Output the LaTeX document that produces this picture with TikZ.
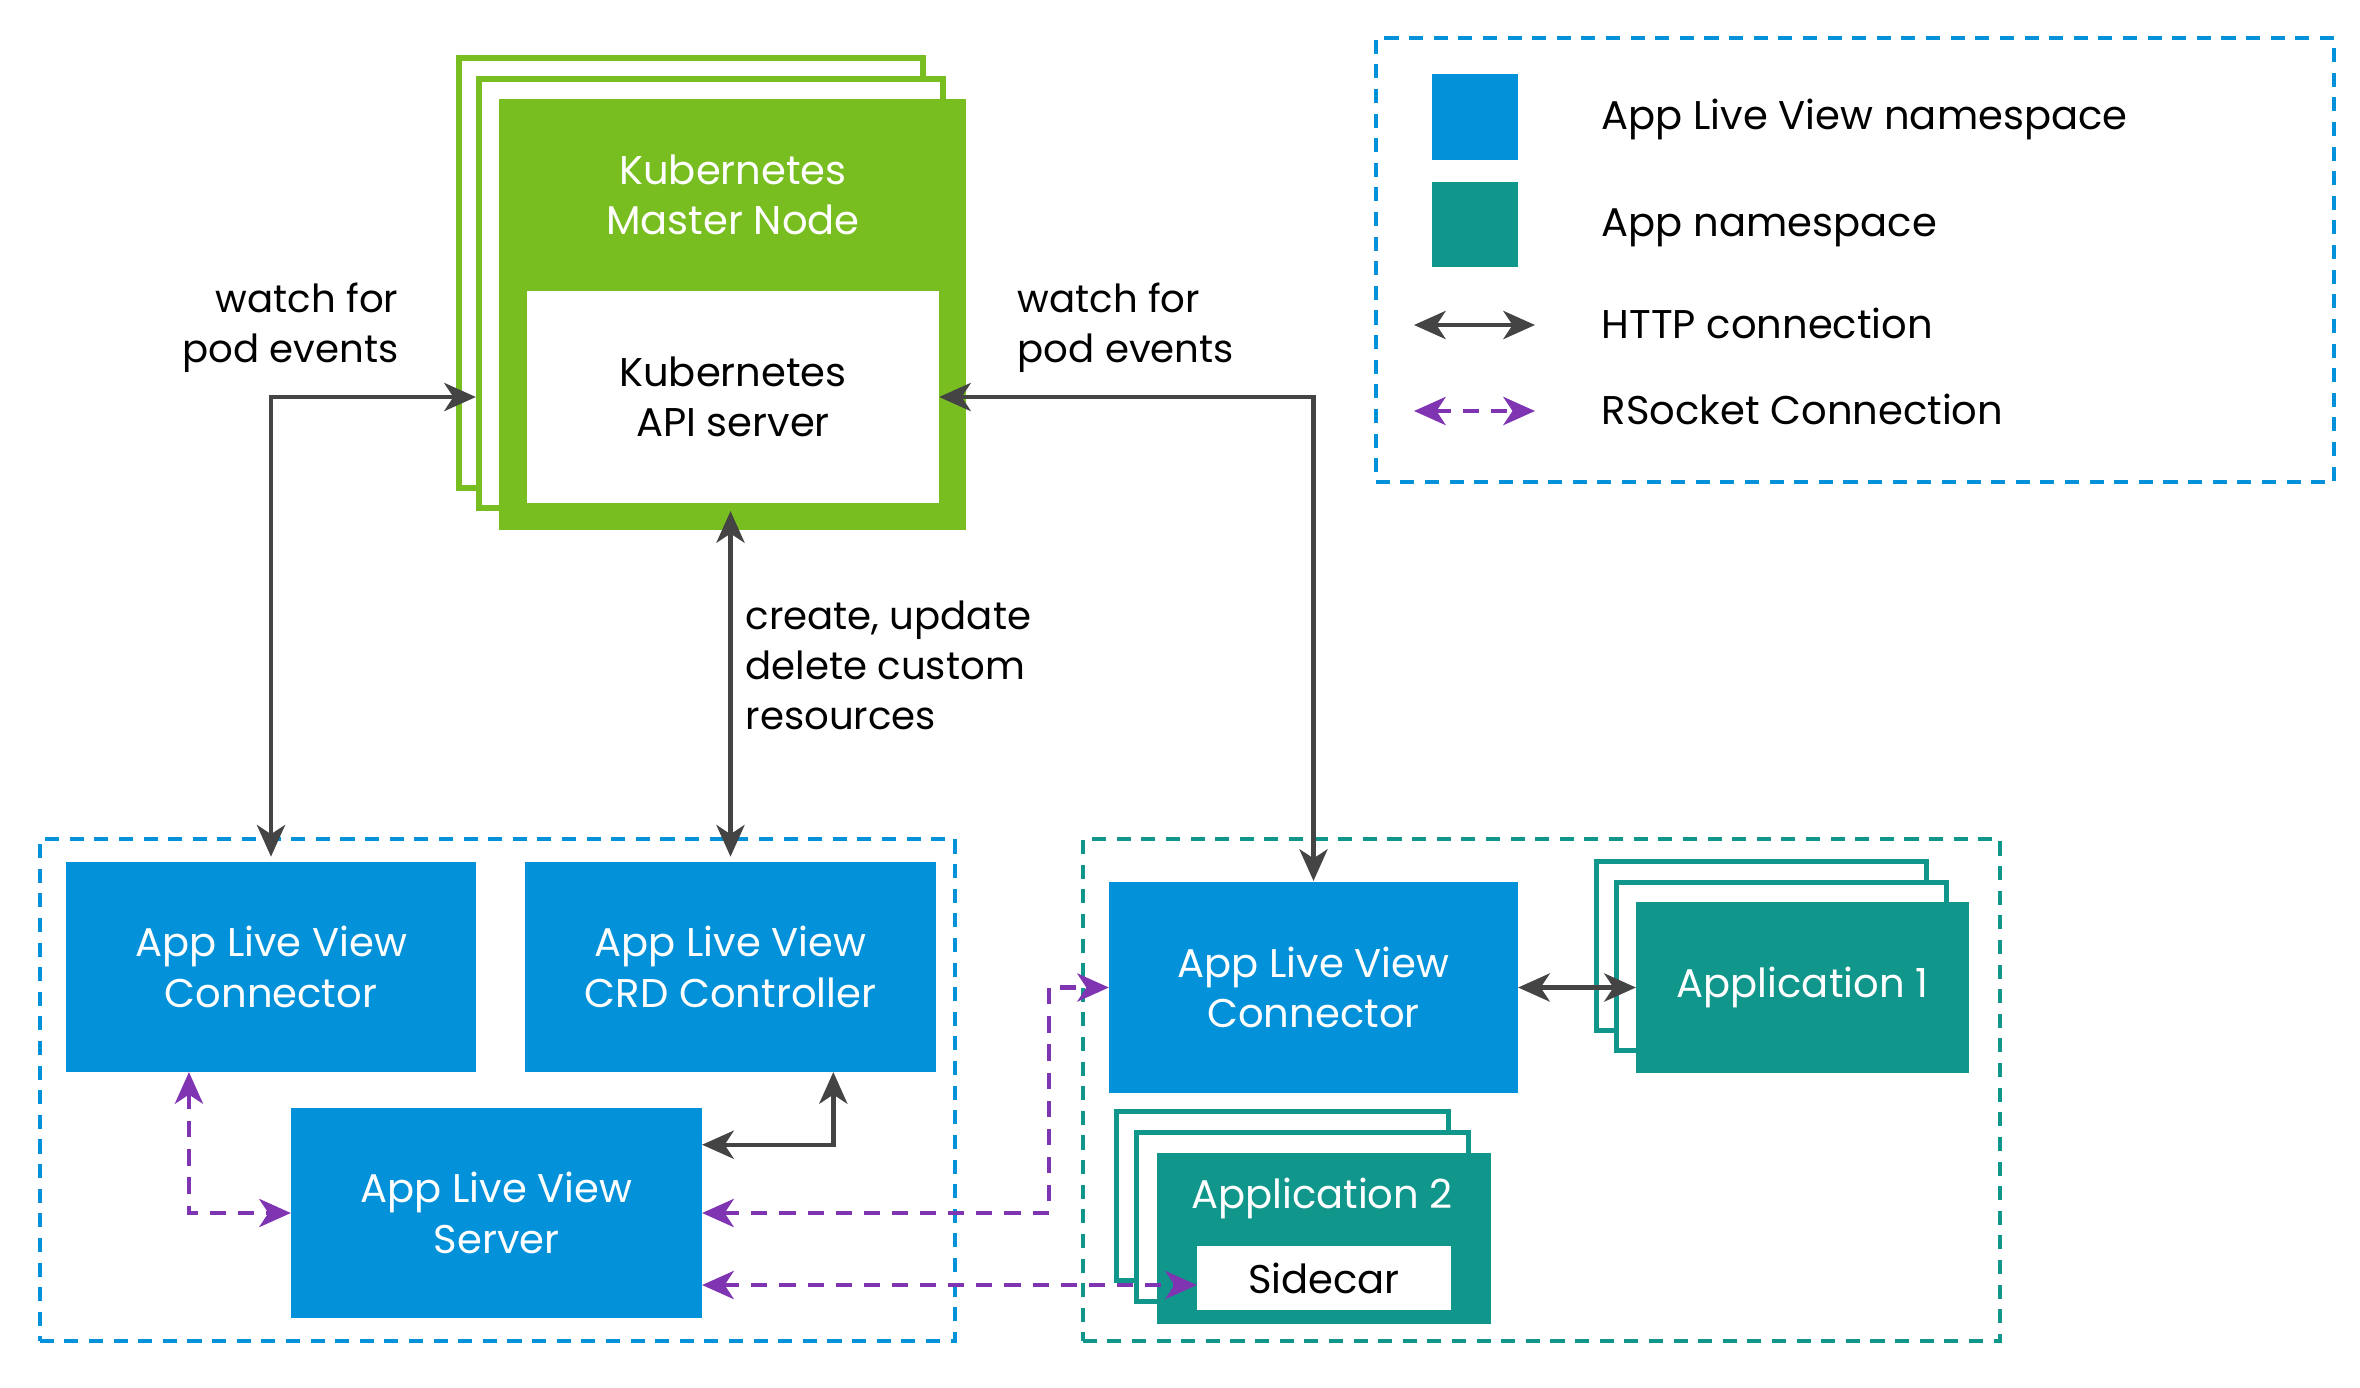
\documentclass[tikz,border=0pt]{standalone}
\usepackage{fontspec}
\setmainfont{Poppins}
\usetikzlibrary{arrows.meta,calc}
\definecolor{alvblue}{HTML}{0391DA}
\definecolor{appteal}{HTML}{10968B}
\definecolor{kgreen}{HTML}{78BE20}
\definecolor{agray}{HTML}{444444}
\definecolor{rspurple}{HTML}{7F35B2}
\tikzset{
  box/.style={rectangle, inner sep=0pt, outer sep=0pt, align=center, font=\fontsize{11.4}{14.4}\selectfont},
  bluebox/.style={box, fill=alvblue, text=white},
  tealbox/.style={box, fill=appteal, text=white},
  greenbox/.style={box, fill=kgreen, text=white},
  whitebox/.style={box, fill=white, text=black},
  gframe/.style={rectangle, inner sep=0pt, draw=kgreen, fill=white, line width=1.7pt},
  tframe/.style={rectangle, inner sep=0pt, draw=appteal, fill=white, line width=1.4pt},
  nsbox/.style={rectangle, inner sep=0pt, dash pattern=on 4pt off 3pt, line width=1.2pt},
  lbl/.style={inner sep=0pt, font=\fontsize{11}{14.2}\selectfont, text=black},
  legtxt/.style={inner sep=0pt, anchor=west, font=\fontsize{11.4}{14}\selectfont, text=black},
  tip/.style={arrows={Stealth[length=9pt,width=8pt,inset=2.6pt]-Stealth[length=9pt,width=8pt,inset=2.6pt]}},
  http/.style={draw=agray, line width=1.25pt, tip},
  rsock/.style={draw=rspurple, line width=1.25pt, dash pattern=on 4.6pt off 3.4pt, tip},
}
\begin{document}
\begin{tikzpicture}[x=0.01cm,y=-0.01cm]
\useasboundingbox (0,0) rectangle (2360,1387);

% Kubernetes master node stack
\node[gframe, minimum width=4.64cm, minimum height=4.30cm] (mframe1) at (691,273) {};
\node[gframe, minimum width=4.64cm, minimum height=4.29cm] (mframe2) at (711,293.5) {};
\node[greenbox, minimum width=4.67cm, minimum height=4.31cm] (master) at (732.5,314.5) {};
\node[box, text=white] (mastertxt) at (733,195) {Kubernetes\\Master Node};
\node[whitebox, minimum width=4.12cm, minimum height=2.12cm] (api) at (733,397) {Kubernetes\\API server};

% legend
\node[nsbox, draw=alvblue, minimum width=9.58cm, minimum height=4.44cm] (legend) at (1855,260) {};
\node[rectangle, fill=alvblue, minimum width=0.86cm, minimum height=0.86cm, inner sep=0pt] (legblue) at (1475,117) {};
\node[rectangle, fill=appteal, minimum width=0.86cm, minimum height=0.85cm, inner sep=0pt] (legteal) at (1475,224.5) {};
\node[legtxt] (legt1) at (1601,119) {App Live View namespace};
\node[legtxt] (legt2) at (1601,228) {App namespace};
\node[legtxt] (legt3) at (1601,323) {HTTP connection};
\node[legtxt] (legt4) at (1601,409) {RSocket Connection};
\coordinate (lh1) at (1414,325);
\coordinate (lh2) at (1535,325);
\coordinate (lr1) at (1414,411);
\coordinate (lr2) at (1535,411);
\draw[http] (lh1) -- (lh2);
\draw[rsock] (lr1) -- (lr2);

% App Live View namespace (left)
\node[nsbox, draw=alvblue, minimum width=9.15cm, minimum height=5.02cm] (lbox) at (497.5,1090) {};
\node[bluebox, minimum width=4.10cm, minimum height=2.10cm] (conL) at (271,967) {App Live View\\Connector};
\node[bluebox, minimum width=4.11cm, minimum height=2.10cm] (crd) at (730.5,967) {App Live View\\CRD Controller};
\node[bluebox, minimum width=4.11cm, minimum height=2.10cm] (server) at (496.5,1213) {App Live View\\Server};

% App namespace (right)
\node[nsbox, draw=appteal, minimum width=9.17cm, minimum height=5.02cm] (rbox) at (1541.5,1090) {};
\node[bluebox, minimum width=4.09cm, minimum height=2.11cm] (conR) at (1313.5,987.5) {App Live View\\Connector};
\node[tframe, minimum width=3.30cm, minimum height=1.69cm] (a1f1) at (1761.5,946) {};
\node[tframe, minimum width=3.30cm, minimum height=1.68cm] (a1f2) at (1781.5,966.5) {};
\node[tealbox, minimum width=3.33cm, minimum height=1.71cm] (app1) at (1802.5,987.5) {Application 1};
\node[tframe, minimum width=3.32cm, minimum height=1.69cm] (a2f1) at (1282.5,1196) {};
\node[tframe, minimum width=3.32cm, minimum height=1.69cm] (a2f2) at (1302.5,1217) {};
\node[tealbox, minimum width=3.34cm, minimum height=1.71cm] (app2) at (1324,1238.5) {};
\node[box, text=white] (app2txt) at (1322,1198) {Application 2};
\node[whitebox, minimum width=2.54cm, minimum height=0.64cm] (sidecar) at (1324,1278) {Sidecar};

% labels
\node[lbl, anchor=east, align=right] (wl) at (399,328) {watch for\\pod events};
\node[lbl, anchor=west, align=left] (wr) at (1017,328) {watch for\\pod events};
\node[lbl, anchor=west, align=left] (cu) at (745,665) {create, update\\delete custom\\resources};

% HTTP connectors
\draw[http, shorten <=1.5pt] (conL.north) |- (mframe2.west |- api.west);
\draw[http, shorten >=0.3pt] (api.east) -| (conR.north);
\draw[http, shorten >=1.5pt] ($(crd.north |- api.south)+(0,8)$) -- (crd.north);
\draw[http] (conR.east) -- (app1.west);
\draw[http] ($(server.north east)!0.35!(server.east)$) -| ($(crd.south)!0.5!(crd.south east)$);

% RSocket connectors
\coordinate (rsmid) at (1049,1213);
\coordinate (scin) at ($(sidecar.west)+(0,7)$);
\draw[rsock] ($(conL.south west)!0.6!(conL.south)$) |- (server.west);
\draw[rsock] (server.east) -| (rsmid |- conR.west) -- (conR.west);
\draw[rsock] (server.east |- scin) -- (scin);
\end{tikzpicture}
\end{document}
